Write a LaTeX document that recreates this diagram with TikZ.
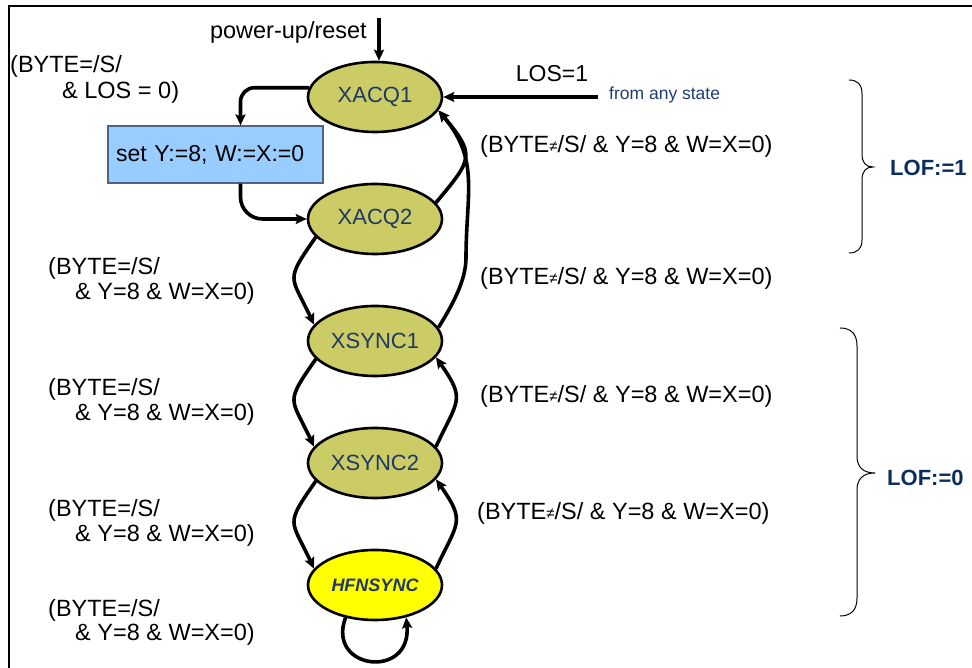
\documentclass[tikz,border=0pt]{standalone}
\usepackage{fontspec}
\setmainfont{Liberation Sans}
\usetikzlibrary{arrows.meta,shapes.geometric}
\definecolor{stolive}{RGB}{204,204,102}
\definecolor{styellow}{RGB}{255,255,0}
\definecolor{stblue}{RGB}{31,56,100}
\definecolor{boxblue}{RGB}{153,204,255}
\definecolor{boxedge}{RGB}{80,100,130}
\definecolor{lofblue}{RGB}{10,45,95}
\definecolor{anyblue}{RGB}{31,60,120}
\newcommand\bneqlab{(BYTE{\fontsize{15}{15}\selectfont\raisebox{0.5pt}{≠}}/S/ \& Y=8 \& W=X=0)}
\begin{document}
\begin{tikzpicture}[x=1pt,y=1pt,
  st/.style={ellipse, draw, line width=2.6pt, fill=stolive, minimum width=134pt,
    minimum height=70pt, inner sep=0pt, text=stblue, font=\fontsize{22}{26}\selectfont},
  tr/.style={line width=3.6pt, -{Stealth[length=11pt,width=10pt,inset=2pt]}},
  lab/.style={anchor=west, inner sep=0pt, font=\fontsize{23.5}{27}\selectfont},
  brc/.style={line width=1pt},
  ]
\useasboundingbox (0,0) rectangle (972,668);
\draw[line width=2pt] (8.5,0) -- (8.5,661.5) -- (972,661.5);

% states
\node[st] (a1) at (375,571) {XACQ1};
\node[st] (a2) at (375,449) {XACQ2};
\node[st] (s1) at (375,327) {XSYNC1};
\node[st] (s2) at (375,205) {XSYNC2};
\node[st, fill=styellow, font=\fontsize{18}{21}\selectfont\bfseries\itshape] (hf) at (375,83) {HFNSYNC};

% action box
\node[draw=boxedge, line width=1.2pt, fill=boxblue, minimum width=215pt, minimum height=57pt,
  text width=199pt, inner xsep=8pt, align=left, font=\fontsize{23}{27}\selectfont]
  (sb) at (215.5,513.5) {set Y:=8; W:=X:=0};

% entry arrows
\coordinate (pu) at (379,650);
\node[anchor=east, inner sep=0pt, font=\fontsize{23.5}{27}\selectfont] (pul) at (367,636) {power-up/reset};
\draw[tr] (pu) -- (pu |- a1.north);

\coordinate (los) at (598,571);
\node[font=\fontsize{23}{27}\selectfont, inner sep=0pt] (losl) at (552,594) {LOS=1};
\node[anchor=west, inner sep=0pt, text=anyblue, font=\fontsize{17.5}{20}\selectfont] (anyl) at (609,573) {from any state};
\draw[tr] (los) -- (a1.east);

% transitions
\draw[tr, rounded corners=14pt] (a1.172) -| ([xshift=25pt]sb.north);
\draw[tr, rounded corners=22pt] ([xshift=25pt]sb.south) |- (a2.west);
\draw[tr] (a2.197) to[out=235,in=115,looseness=1.6] (s1.165);
\draw[tr] (a2.15) to[out=50,in=-50,looseness=1.6] (a1.-12);
\draw[tr] (s1.12) to[out=58,in=-90,looseness=0.8] (466,410) to[out=90,in=-50,looseness=1.1] (a1.-12);
\draw[tr] (s1.197) to[out=235,in=115,looseness=1.6] (s2.165);
\draw[tr] (s2.15) to[out=65,in=-55,looseness=1.5] (s1.-15);
\draw[tr] (s2.197) to[out=235,in=115,looseness=1.6] (hf.165);
\draw[tr] (hf.15) to[out=65,in=-55,looseness=1.5] (s2.-15);
\draw[tr] (hf.228) .. controls (326,-2) and (412,-12) .. (hf.-46);

% left labels
\node[lab] (l0a) at (10,602) {(BYTE=/S/};
\node[lab] (l0b) at (62,576) {\& LOS = 0)};
\node[lab] (l1a) at (48,400) {(BYTE=/S/};
\node[lab] (l1b) at (75,375) {\& Y=8 \& W=X=0)};
\node[lab] (l2a) at (48,279) {(BYTE=/S/};
\node[lab] (l2b) at (75,254) {\& Y=8 \& W=X=0)};
\node[lab] (l3a) at (48,158) {(BYTE=/S/};
\node[lab] (l3b) at (75,133) {\& Y=8 \& W=X=0)};
\node[lab] (l4a) at (48,58) {(BYTE=/S/};
\node[lab] (l4b) at (75,34) {\& Y=8 \& W=X=0)};

% right labels
\node[lab] (r1) at (480,522) {\bneqlab};
\node[lab] (r2) at (480,390) {\bneqlab};
\node[lab] (r3) at (480,272) {\bneqlab};
\node[lab] (r4) at (477,155) {\bneqlab};

% braces
\draw[brc] (849,588) .. controls (857,588) and (862,584) .. (862,574) -- (862,514)
  .. controls (862,505) and (866,501) .. (873,501) .. controls (866,501) and (862,497) .. (862,488)
  -- (862,428) .. controls (862,419) and (857,415) .. (849,415);
\draw[brc] (840,340) .. controls (851,340) and (857,334) .. (857,322) -- (857,212)
  .. controls (857,201) and (863,195) .. (875,195) .. controls (863,195) and (857,189) .. (857,178)
  -- (857,70) .. controls (857,58) and (851,52) .. (840,52);
\node[anchor=west, inner sep=0pt, text=lofblue, font=\fontsize{22}{26}\selectfont\bfseries] (lof1) at (890,500) {LOF:=1};
\node[anchor=west, inner sep=0pt, text=lofblue, font=\fontsize{22}{26}\selectfont\bfseries] (lof0) at (887,190) {LOF:=0};
\end{tikzpicture}
\end{document}
